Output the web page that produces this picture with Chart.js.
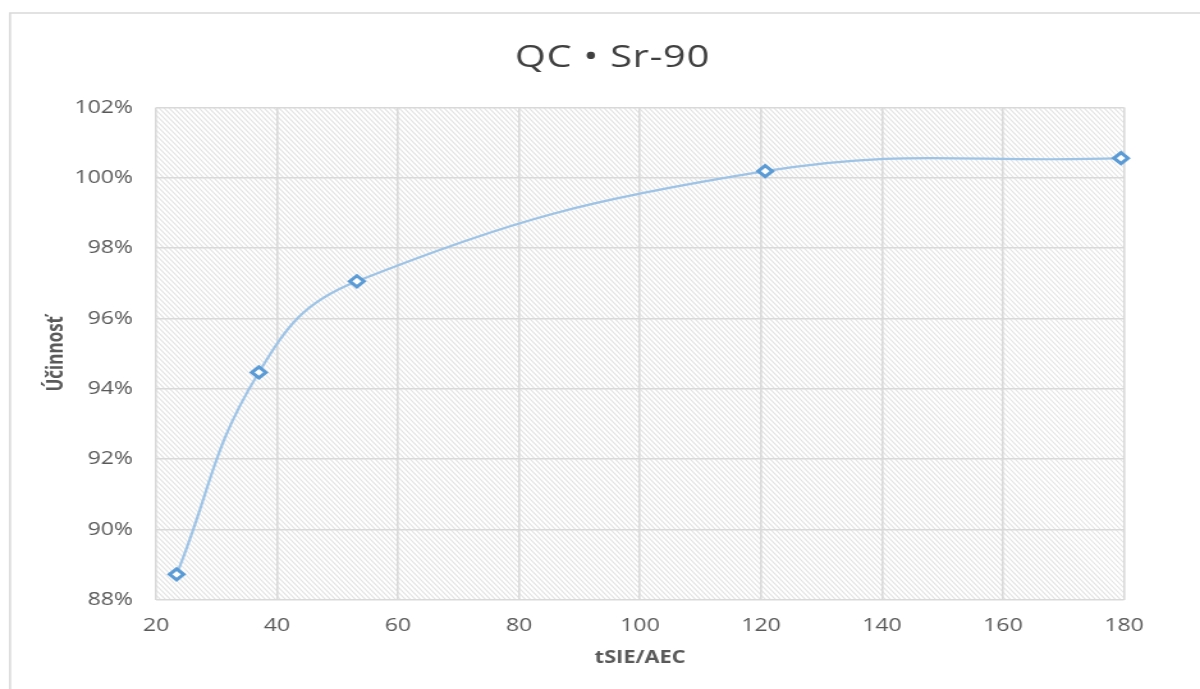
<!DOCTYPE html>
<html>
<head>
<meta charset="utf-8">
<script src="https://cdn.jsdelivr.net/npm/chart.js@4"></script>
<style>
  html, body { margin: 0; padding: 0; background: #ffffff; overflow: hidden; }
</style>
</head>
<body>
<canvas id="c" width="938" height="689" style="display:block;width:1200px;height:689px;"></canvas>
<script>
// ---- data ----
const xValues = [23.4, 37.0, 53.2, 120.7, 179.5];        // tSIE/AEC
const yValues = [88.73, 94.47, 97.06, 100.19, 100.56];   // Účinnosť (%)
const xTicks = [20, 40, 60, 80, 100, 120, 140, 160, 180];
const yTicks = [88, 90, 92, 94, 96, 98, 100, 102];
const chartTitle = 'QC • Sr-90';
const xTitle = 'tSIE/AEC';
const yTitle = 'Účinnosť';

// the reference picture is horizontally stretched; canvas is drawn narrower and stretched by CSS
const SX = 1200 / 938;

const points = xValues.map((x, i) => ({ x: x, y: yValues[i] }));

const framePlugin = {
  id: 'frame',
  beforeDraw(chart) {
    const ctx = chart.ctx;
    const a = chart.chartArea;
    ctx.save();
    // outer frame (left + top edges visible)
    ctx.strokeStyle = '#d9d9d9';
    ctx.lineWidth = 1.6;
    ctx.beginPath();
    ctx.moveTo(10 / SX, 700);
    ctx.lineTo(10 / SX, 13);
    ctx.lineTo(chart.width + 5, 13);
    ctx.stroke();
    // hatch in plot area
    ctx.beginPath();
    ctx.rect(a.left, a.top, a.right - a.left, a.bottom - a.top);
    ctx.clip();
    ctx.scale(1 / SX, 1);
    const L = a.left * SX, R = a.right * SX, T = a.top, B = a.bottom;
    const H = B - T;
    ctx.strokeStyle = '#e2e2e2';
    ctx.lineWidth = 1.2;
    ctx.beginPath();
    for (let c = L - H - 10; c < R + 10; c += 5) {
      ctx.moveTo(c, T);
      ctx.lineTo(c + H, B);
    }
    ctx.stroke();
    ctx.restore();
  },
  afterDraw(chart) {
    const ctx = chart.ctx;
    ctx.save();
    ctx.fillStyle = '#404040';
    ctx.font = '31px "Open Sans"';
    ctx.textAlign = 'center';
    ctx.textBaseline = 'alphabetic';
    try { ctx.letterSpacing = '0.6px'; } catch (e) {}
    ctx.fillText(chartTitle, 612.5 / SX, 67);
    ctx.restore();
  }
};

new Chart(document.getElementById('c'), {
  type: 'scatter',
  data: {
    datasets: [{
      data: points,
      showLine: true,
      tension: 0.42,
      borderColor: '#9dc3e6',
      borderWidth: 2.2,
      pointStyle: 'rectRot',
      pointRadius: 5.5,
      pointBorderWidth: 3,
      pointBorderColor: '#5b9bd5',
      pointBackgroundColor: '#ffffff',
      clip: false
    }]
  },
  options: {
    responsive: false,
    animation: false,
    events: [],
    layout: { padding: { top: 107.5, right: 938 - 1124 / SX, bottom: 0, left: 0 } },
    plugins: {
      legend: { display: false },
      title: { display: false },
      tooltip: { enabled: false }
    },
    scales: {
      x: {
        type: 'linear',
        min: 20, max: 180,
        afterBuildTicks(s) { s.ticks = xTicks.map(v => ({ value: v })); },
        afterFit(s) { s.height = 89; },
        grid: { color: '#d9d9d9', lineWidth: 1.6, drawTicks: false },
        border: { display: false },
        ticks: { color: '#595959', font: { family: 'Open Sans', size: 18 }, padding: 15, maxRotation: 0 },
        title: { display: true, text: xTitle, color: '#595959', font: { family: 'Open Sans', size: 17, weight: 'bold' }, padding: { top: 0, bottom: 21 } }
      },
      y: {
        type: 'linear',
        min: 88, max: 102,
        afterBuildTicks(s) { s.ticks = yTicks.map(v => ({ value: v })); },
        afterFit(s) { s.width = 156 / SX; },
        grid: { color: '#d9d9d9', lineWidth: 1.6, drawTicks: false },
        border: { display: false },
        ticks: { color: '#595959', font: { family: 'Open Sans', size: 18 }, padding: 18, callback: v => v + '%' },
        title: { display: true, text: yTitle, color: '#595959', font: { family: 'Open Sans', size: 17, weight: 'bold' }, padding: { top: 34, bottom: 0 } }
      }
    }
  },
  plugins: [framePlugin]
});
</script>
</body>
</html>
